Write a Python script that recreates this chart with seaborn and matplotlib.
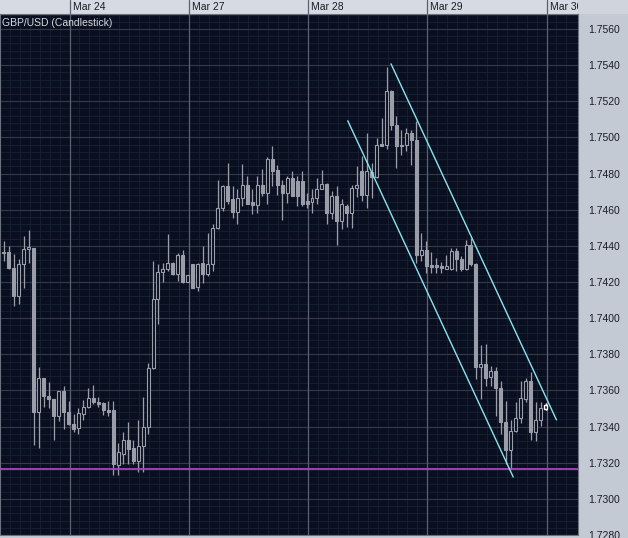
import numpy as np
import pandas as pd
import seaborn as sns
import matplotlib.pyplot as plt
import matplotlib.transforms as mtransforms
from matplotlib.patches import Rectangle

# hourly candles, hour index relative to Mar 24 00:00 (trading hours only)
hours = list(range(-14, 96))

open_ = [1.74366, 1.74366, 1.74280, 1.74123, 1.74302, 1.74381, 1.74390, 1.73480, 1.73667, 1.73568,
         1.73550, 1.73461, 1.73596, 1.73480, 1.73415, 1.73391, 1.73470, 1.73507, 1.73559, 1.73538,
         1.73531, 1.73494, 1.73489, 1.73189, 1.73250, 1.73323, 1.73281, 1.73207, 1.73295, 1.73397,
         1.73722, 1.74105, 1.74257, 1.74274, 1.74303, 1.74243, 1.74348, 1.74200, 1.74298, 1.74175,
         1.74303, 1.74243, 1.74298, 1.74500, 1.74611, 1.74730, 1.74657, 1.74587, 1.74666, 1.74734,
         1.74642, 1.74624, 1.74739, 1.74693, 1.74881, 1.74818, 1.74739, 1.74690, 1.74776, 1.74758,
         1.74758, 1.74647, 1.74642, 1.74666, 1.74715, 1.74743, 1.74579, 1.74678, 1.74537, 1.74620,
         1.74579, 1.74721, 1.74813, 1.74679, 1.74808, 1.74782, 1.74964, 1.74960, 1.75258, 1.75070,
         1.74960, 1.74960, 1.75024, 1.74984, 1.74348, 1.74375, 1.74292, 1.74292, 1.74289, 1.74274,
         1.74274, 1.74371, 1.74325, 1.74270, 1.74403, 1.74298, 1.73728, 1.73746, 1.73673, 1.73709,
         1.73612, 1.73424, 1.73268, 1.73378, 1.73446, 1.73553, 1.73654, 1.73369, 1.73434, 1.73498]

high = [1.74427, 1.74399, 1.74353, 1.74325, 1.74454, 1.74485, 1.74390, 1.73728, 1.73667, 1.73645,
        1.73553, 1.73599, 1.73627, 1.73544, 1.73470, 1.73502, 1.73548, 1.73612, 1.73630, 1.73562,
        1.73535, 1.73544, 1.73544, 1.73310, 1.73369, 1.73428, 1.73323, 1.73434, 1.73562, 1.73752,
        1.74316, 1.74298, 1.74303, 1.74467, 1.74311, 1.74362, 1.74375, 1.74240, 1.74302, 1.74303,
        1.74399, 1.74472, 1.74519, 1.74767, 1.74739, 1.74859, 1.74730, 1.74712, 1.74853, 1.74785,
        1.74712, 1.74789, 1.74826, 1.74892, 1.74951, 1.74850, 1.74767, 1.74785, 1.74813, 1.74785,
        1.74813, 1.74693, 1.74712, 1.74776, 1.74822, 1.74749, 1.74702, 1.74730, 1.74657, 1.74634,
        1.74739, 1.74840, 1.74899, 1.75024, 1.74859, 1.74997, 1.75107, 1.75392, 1.75263, 1.75116,
        1.75043, 1.75052, 1.75043, 1.75089, 1.74473, 1.74427, 1.74368, 1.74335, 1.74311, 1.74348,
        1.74390, 1.74390, 1.74344, 1.74432, 1.74445, 1.74307, 1.73851, 1.73857, 1.73737, 1.73728,
        1.73654, 1.73544, 1.73434, 1.73538, 1.73654, 1.73667, 1.73704, 1.73535, 1.73538, 1.73531]

low = [1.74316, 1.74274, 1.74068, 1.74077, 1.74169, 1.74307, 1.73296, 1.73281, 1.73507, 1.73503,
       1.73323, 1.73430, 1.73384, 1.73410, 1.73369, 1.73360, 1.73437, 1.73502, 1.73526, 1.73507,
       1.73465, 1.73461, 1.73130, 1.73134, 1.73195, 1.73195, 1.73195, 1.73149, 1.73149, 1.73360,
       1.73719, 1.73967, 1.74200, 1.74261, 1.74237, 1.74206, 1.74197, 1.74198, 1.74164, 1.74151,
       1.74197, 1.74234, 1.74261, 1.74495, 1.74592, 1.74629, 1.74555, 1.74519, 1.74620, 1.74629,
       1.74578, 1.74583, 1.74675, 1.74634, 1.74730, 1.74684, 1.74543, 1.74638, 1.74675, 1.74620,
       1.74620, 1.74611, 1.74579, 1.74629, 1.74712, 1.74519, 1.74546, 1.74403, 1.74491, 1.74506,
       1.74500, 1.74671, 1.74647, 1.74611, 1.74666, 1.74776, 1.74954, 1.74936, 1.75043, 1.74831,
       1.74905, 1.74923, 1.74850, 1.74307, 1.74316, 1.74252, 1.74252, 1.74252, 1.74248, 1.74270,
       1.74267, 1.74261, 1.74261, 1.74267, 1.74289, 1.73664, 1.73553, 1.73627, 1.73627, 1.73461,
       1.73360, 1.73195, 1.73163, 1.73370, 1.73421, 1.73538, 1.73323, 1.73318, 1.73402, 1.73489]

close = [1.74358, 1.74278, 1.74123, 1.74302, 1.74381, 1.74392, 1.73480, 1.73667, 1.73568, 1.73550,
         1.73461, 1.73596, 1.73480, 1.73412, 1.73388, 1.73476, 1.73507, 1.73559, 1.73535, 1.73526,
         1.73489, 1.73483, 1.73195, 1.73259, 1.73323, 1.73277, 1.73207, 1.73292, 1.73397, 1.73722,
         1.74105, 1.74257, 1.74274, 1.74303, 1.74243, 1.74348, 1.74200, 1.74237, 1.74169, 1.74302,
         1.74243, 1.74298, 1.74500, 1.74611, 1.74730, 1.74647, 1.74587, 1.74666, 1.74734, 1.74634,
         1.74624, 1.74739, 1.74693, 1.74881, 1.74813, 1.74739, 1.74690, 1.74776, 1.74675, 1.74675,
         1.74634, 1.74634, 1.74666, 1.74715, 1.74743, 1.74583, 1.74678, 1.74537, 1.74629, 1.74579,
         1.74721, 1.74734, 1.74679, 1.74813, 1.74782, 1.74960, 1.74955, 1.75258, 1.75070, 1.74951,
         1.74951, 1.75024, 1.74984, 1.74348, 1.74375, 1.74289, 1.74283, 1.74285, 1.74276, 1.74289,
         1.74371, 1.74325, 1.74270, 1.74403, 1.74298, 1.73728, 1.73746, 1.73667, 1.73709, 1.73612,
         1.73424, 1.73268, 1.73378, 1.73446, 1.73557, 1.73654, 1.73369, 1.73434, 1.73502, 1.73521]

day_labels = ["Mar 24", "Mar 27", "Mar 28", "Mar 29", "Mar 30"]
day_starts = [0, 24, 48, 72, 96]
price_labels = ["1.7280", "1.7300", "1.7320", "1.7340", "1.7360", "1.7380", "1.7400", "1.7420",
                "1.7440", "1.7460", "1.7480", "1.7500", "1.7520", "1.7540", "1.7560"]
support_level = 1.73165
upper_x = [64.7, 98.0]
upper_y = [1.75407, 1.73437]
lower_x = [56.0, 89.3]
lower_y = [1.75092, 1.73121]

bg = "#0a0f1f"
gray = "#9a9ea8"

sns.set_theme(style="dark", rc={"axes.facecolor": bg, "figure.facecolor": "#c4cad4"})
plt.rcParams["font.family"] = ["Liberation Sans", "DejaVu Sans"]

df = pd.DataFrame({"hour": hours, "open": open_, "high": high, "low": low, "close": close})
df["x"] = df["hour"] + 0.8  # bar drawn near the end of its hour slot
df["up"] = df["close"] >= df["open"]

fig = plt.figure(figsize=(6.28, 5.38), dpi=100)
ax = fig.add_axes([0, 3 / 538, 578 / 628, 521 / 538])

# top date strip
strip = Rectangle((0, 524 / 538), 578 / 628, 14 / 538, transform=fig.transFigure,
                  facecolor="#d6dae2", edgecolor="none", zorder=-1)
fig.patches.append(strip)
corner = Rectangle((578 / 628, 524 / 538), 50 / 628, 14 / 538, transform=fig.transFigure,
                   facecolor="#d0d4dc", edgecolor="none", zorder=-1)
fig.patches.append(corner)

ax.set_xlim(-13.26, 102.34)
ax.set_ylim(1.728083, 1.756828)

# grid
ax.set_yticks([float(p) for p in price_labels])
ax.set_yticks(np.arange(1.7280, 1.7570, 0.0004), minor=True)
ax.set_xticks(day_starts)
ax.set_xticks(np.arange(-14, 102, 2), minor=True)
ax.grid(which="minor", color="#182034", lw=0.6)
ax.grid(which="major", axis="y", color="#343c4c", lw=0.8)
ax.grid(which="major", axis="x", visible=False)
for d in day_starts:
    ax.axvline(d, ymin=0, ymax=1 + 14 / 521, color="#5a6272", lw=0.9, clip_on=False, zorder=1)

# candles
ax.vlines(df["x"], df["low"], df["high"], color=gray, lw=0.9, zorder=2)
body_lo = np.minimum(df["open"], df["close"])
body_h = (df["close"] - df["open"]).abs()
dn = df[~df["up"]]
upc = df[df["up"]].iloc[:-1]
ax.bar(dn["x"], body_h[dn.index], bottom=body_lo[dn.index], width=0.6,
       color=gray, edgecolor=gray, lw=0.8, zorder=3)
ax.bar(upc["x"], body_h[upc.index], bottom=body_lo[upc.index], width=0.6,
       color=bg, edgecolor=gray, lw=0.8, zorder=3)
last = df.iloc[-1]
ax.vlines(last["x"], last["low"], last["high"], color="white", lw=1, zorder=4)
ax.bar(last["x"], abs(last["close"] - last["open"]), bottom=min(last["open"], last["close"]),
       width=0.6, color=bg, edgecolor="white", lw=1, zorder=5)

# support and channel
ax.axhline(support_level, color="#b43cc8", lw=1.3, zorder=4)
sns.lineplot(x=upper_x, y=upper_y, ax=ax, color="#8ae4f0", lw=1, zorder=6)
sns.lineplot(x=lower_x, y=lower_y, ax=ax, color="#8ae4f0", lw=1, zorder=6)

ax.text(0.003, 0.992, "GBP/USD (Candlestick)", transform=ax.transAxes, va="top", ha="left",
        fontsize=7.5, color="#d4d8e0")

# axes labels
ax.yaxis.tick_right()
ax.set_yticklabels(price_labels)
ax.tick_params(axis="y", which="both", length=0, pad=7, labelsize=7.5, labelcolor="#1a1d24")
ax.xaxis.tick_top()
ax.set_xticklabels(day_labels, ha="left")
ax.tick_params(axis="x", which="both", length=0, pad=1.5, labelsize=7.5, labelcolor="#1a1d24")
shift = mtransforms.ScaledTranslation(3 / 100, 0, fig.dpi_scale_trans)
for lab in ax.get_xticklabels():
    lab.set_transform(lab.get_transform() + shift)
    lab.set_clip_path(strip)
ax.set_xlabel("")
ax.set_ylabel("")
for s in ax.spines.values():
    s.set_visible(True)
    s.set_color("#6a7280")
    s.set_linewidth(0.8)

fig.savefig("out.png", dpi=100)
